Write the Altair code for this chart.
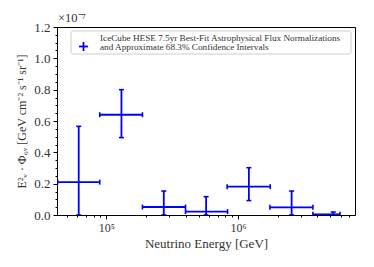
import altair as alt
import pandas as pd

# Energy bins [GeV]
e_center = [6.16e4, 1.30e5, 2.725e5, 5.71e5, 1.206e6, 2.546e6, 5.27e6]
e_low = [4.26e4, 8.895e4, 1.877e5, 3.984e5, 8.25e5, 1.742e6, 3.694e6]
e_high = [8.895e4, 1.877e5, 3.984e5, 8.31e5, 1.751e6, 3.694e6, 5.93e6]
# E^2 * Phi  [GeV cm^-2 s^-1 sr^-1]
flux = [2.10e-8, 6.40e-8, 5.1e-9, 2.2e-9, 1.81e-8, 4.9e-9, 4.0e-10]
flux_low = [0.0, 4.94e-8, 0.0, 0.0, 9.2e-9, 0.0, 0.0]
flux_high = [5.66e-8, 8.00e-8, 1.53e-8, 1.17e-8, 3.02e-8, 1.53e-8, 1.9e-9]

x_major = [1e5, 1e6]
x_minor = [5e4, 6e4, 7e4, 8e4, 9e4, 2e5, 3e5, 4e5, 5e5, 6e5, 7e5, 8e5, 9e5,
           2e6, 3e6, 4e6, 5e6, 6e6, 7e6]
y_major = [0.0, 2e-8, 4e-8, 6e-8, 8e-8, 1e-7, 1.2e-7]
y_minor = [i * 5e-9 for i in range(25)]

legend_lines = ["IceCube HESE 7.5yr Best-Fit Astrophysical Flux Normalizations",
                "and Approximate 68.3% Confidence Intervals"]

df = pd.DataFrame({"ec": e_center, "elo": e_low, "ehi": e_high,
                   "f": flux, "flo": flux_low, "fhi": flux_high})

FONT = "Liberation Serif"
BLUE = "#0000ff"
TXT = "#333333"

xscale = alt.Scale(type="log", domain=[4.214e4, 7.71e6], nice=False)
yscale = alt.Scale(domain=[0, 1.2e-7], nice=False, zero=False)

xaxis = alt.Axis(values=x_major, labelExpr="datum.value == 100000 ? '10⁵' : '10⁶'",
                 title="Neutrino Energy [GeV]", grid=False, tickSize=4,
                 labelFontSize=12, titleFontSize=13, labelPadding=3, titlePadding=4,
                 domainColor="black", tickColor="black", labelColor=TXT,
                 titleColor=TXT, titleFontWeight="normal", labelFont=FONT, titleFont=FONT,
                 orient="bottom")
yaxis = alt.Axis(values=y_major, labelExpr="format(datum.value*1e7, '.1f')",
                 title="E²ᵥ · Φ₆ᵥ [GeV cm⁻² s⁻¹ sr⁻¹]", grid=False, tickSize=4,
                 labelFontSize=13, titleFontSize=12, labelPadding=3, titlePadding=5,
                 domainColor="black", tickColor="black", labelColor=TXT,
                 titleColor=TXT, titleFontWeight="normal", labelFont=FONT, titleFont=FONT,
                 orient="left")
xaxis_minor = alt.Axis(values=x_minor, labels=False, title="", grid=False, tickSize=2,
                       domain=False, tickColor="black", orient="bottom")
yaxis_minor = alt.Axis(values=y_minor, labels=False, title="", grid=False, tickSize=2,
                       domain=False, tickColor="black", orient="left")

base = alt.Chart(df)

hbar = base.mark_rule(color=BLUE, strokeWidth=1.8, clip=True).encode(
    x=alt.X("elo:Q", scale=xscale, axis=xaxis), x2="ehi:Q",
    y=alt.Y("f:Q", scale=yscale, axis=yaxis))
vbar = base.mark_rule(color=BLUE, strokeWidth=1.8, clip=True).encode(
    x=alt.X("ec:Q", scale=xscale, axis=None),
    y=alt.Y("flo:Q", scale=yscale, axis=None), y2="fhi:Q")
hcaps = base.transform_fold(["elo", "ehi"], as_=["k", "v"]).mark_tick(
    color=BLUE, orient="vertical", size=5, thickness=1.6, opacity=1, clip=True).encode(
    x=alt.X("v:Q", scale=xscale, axis=None), y=alt.Y("f:Q", scale=yscale, axis=None))
vcaps = base.transform_fold(["flo", "fhi"], as_=["k", "v"]).mark_tick(
    color=BLUE, orient="horizontal", size=5, thickness=1.6, opacity=1, clip=True).encode(
    x=alt.X("ec:Q", scale=xscale, axis=None), y=alt.Y("v:Q", scale=yscale, axis=None))

minor = base.mark_point(opacity=0).encode(
    x=alt.X("ec:Q", scale=xscale, axis=xaxis_minor),
    y=alt.Y("f:Q", scale=yscale, axis=yaxis_minor))

one = alt.Data(values=[{}])
exp_text = alt.Chart(one).mark_text(text="×10⁻⁷", align="left", baseline="alphabetic",
                                    font=FONT, fontSize=12.5, color=TXT).encode(
    x=alt.value(1), y=alt.value(-5))
leg_box = alt.Chart(one).mark_rect(fill="white", stroke="#cccccc", strokeWidth=1,
                                   cornerRadius=2).encode(
    x=alt.value(14), x2=alt.value(294), y=alt.value(4), y2=alt.value(27))
leg_h = alt.Chart(one).mark_rule(color=BLUE, strokeWidth=1.8).encode(
    x=alt.value(22), x2=alt.value(31), y=alt.value(19.5))
leg_v = alt.Chart(one).mark_rule(color=BLUE, strokeWidth=1.8).encode(
    x=alt.value(26.5), y=alt.value(15), y2=alt.value(24))
leg_t1 = alt.Chart(one).mark_text(text=legend_lines[0], align="left", baseline="middle",
                                  font=FONT, fontSize=9.2, color=TXT).encode(
    x=alt.value(43), y=alt.value(10.8))
leg_t2 = alt.Chart(one).mark_text(text=legend_lines[1], align="left", baseline="middle",
                                  font=FONT, fontSize=9.2, color=TXT).encode(
    x=alt.value(43), y=alt.value(20.2))

chart = alt.layer(hbar, vbar, hcaps, vcaps, minor, exp_text, leg_box, leg_h, leg_v,
                  leg_t1, leg_t2).resolve_axis(
    x="independent", y="independent").properties(
    width=298, height=188,
    autosize=alt.AutoSizeParams(type="none"),
    padding={"left": 49, "top": 19, "right": 11, "bottom": 44},
).configure(font=FONT).configure_axis(labelFont=FONT, titleFont=FONT).configure_view(
    stroke="black", strokeWidth=1)

chart.save("out.html", embed_options={"renderer": "svg", "actions": False})
